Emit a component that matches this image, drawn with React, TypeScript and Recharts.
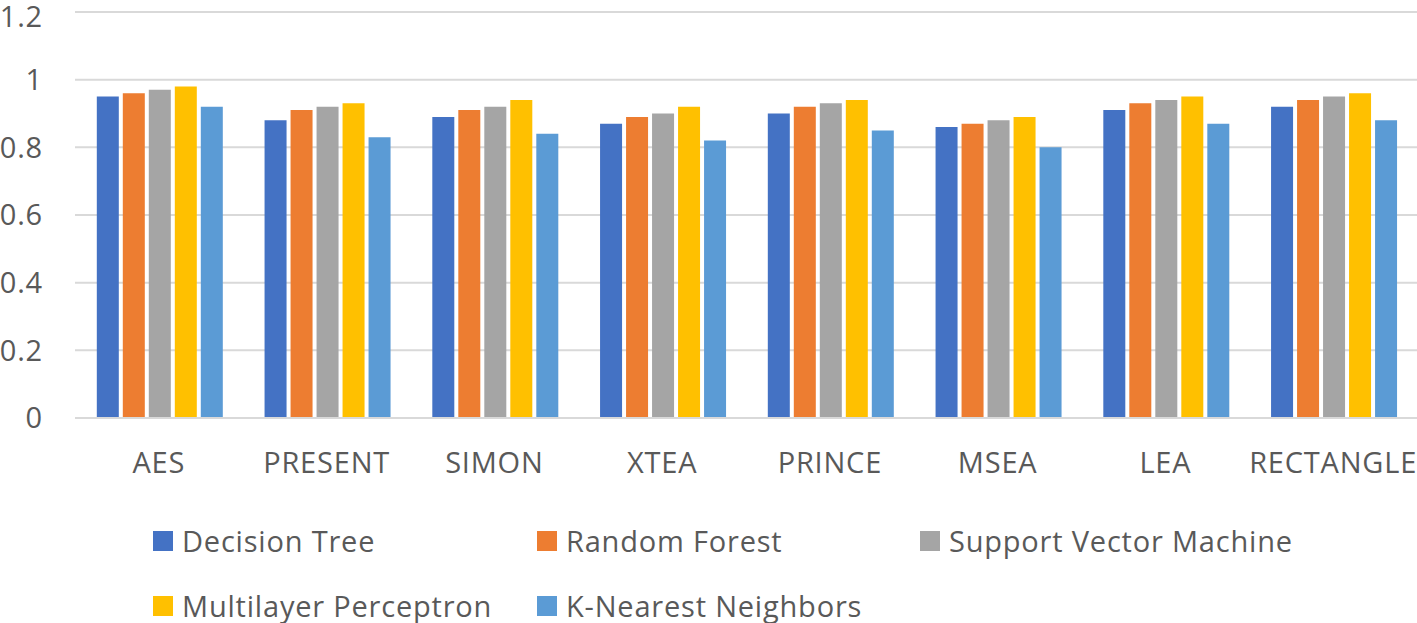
import React from "react";
import { BarChart, Bar, XAxis, YAxis, CartesianGrid, Legend } from "recharts";

const categories = ["AES", "PRESENT", "SIMON", "XTEA", "PRINCE", "MSEA", "LEA", "RECTANGLE"];
const decisionTree = [0.95, 0.88, 0.89, 0.87, 0.9, 0.86, 0.91, 0.92];
const randomForest = [0.96, 0.91, 0.91, 0.89, 0.92, 0.87, 0.93, 0.94];
const svm = [0.97, 0.92, 0.92, 0.9, 0.93, 0.88, 0.94, 0.95];
const mlp = [0.98, 0.93, 0.94, 0.92, 0.94, 0.89, 0.95, 0.96];
const knn = [0.92, 0.83, 0.84, 0.82, 0.85, 0.8, 0.87, 0.88];
const yTicks = [0, 0.2, 0.4, 0.6, 0.8, 1, 1.2];

const series = [
  { key: "dt", name: "Decision Tree", color: "#4472C4", values: decisionTree },
  { key: "rf", name: "Random Forest", color: "#ED7D31", values: randomForest },
  { key: "svm", name: "Support Vector Machine", color: "#A5A5A5", values: svm },
  { key: "mlp", name: "Multilayer Perceptron", color: "#FFC000", values: mlp },
  { key: "knn", name: "K-Nearest Neighbors", color: "#5B9BD5", values: knn },
];

const data = categories.map((c, i) => {
  const row: any = { name: c };
  series.forEach((s) => (row[s.key] = s.values[i]));
  return row;
});

const FONT = "'Open Sans', sans-serif";
const TEXT = "#595959";

const LegendContent = () => {
  const cols = [153, 537, 920];
  return (
    <div style={{ position: "relative", width: 1417, height: 115, fontFamily: FONT }}>
      {series.map((s, i) => {
        const col = i < 3 ? i : i - 3;
        const row = i < 3 ? 0 : 1;
        return (
          <div
            key={s.key}
            style={{
              position: "absolute",
              left: cols[col],
              top: row === 0 ? 33 - 18 : 98 - 18,
              height: 36,
              display: "flex",
              alignItems: "center",
              whiteSpace: "nowrap",
            }}
          >
            <span style={{ width: 20, height: 20, background: s.color, display: "inline-block", marginRight: 9 }} />
            <span style={{ fontSize: 29, fontWeight: 500, letterSpacing: 0.8, color: TEXT, lineHeight: "36px" }}>{s.name}</span>
          </div>
        );
      })}
    </div>
  );
};

const tickStyle = { fill: TEXT, fontSize: 29, fontWeight: 500, fontFamily: FONT, letterSpacing: 0.8 };

export default function App() {
  return (
    <div style={{ position: "absolute", left: 0, top: 0, width: 1417, height: 623, background: "#fff" }}>
      <BarChart
        width={1417}
        height={623}
        data={data}
        margin={{ top: 12, right: 0, left: 0, bottom: 0 }}
        barCategoryGap="13%"
        barGap={4}
      >
        <CartesianGrid vertical={false} stroke="#D9D9D9" strokeWidth={2} />
        <XAxis
          dataKey="name"
          height={90}
          axisLine={{ stroke: "#D9D9D9", strokeWidth: 2 }}
          tickLine={false}
          tickSize={0}
          tickMargin={34}
          interval={0}
          tick={tickStyle}
        />
        <YAxis
          width={75}
          domain={[0, 1.2]}
          ticks={yTicks}
          axisLine={false}
          tickLine={false}
          tickSize={0}
          tickMargin={32}
          tick={tickStyle}
        />
        <Legend verticalAlign="bottom" content={<LegendContent />} wrapperStyle={{ left: 0, width: 1417 }} />
        {series.map((s) => (
          <Bar key={s.key} dataKey={s.key} name={s.name} fill={s.color} isAnimationActive={false} />
        ))}
      </BarChart>
    </div>
  );
}
